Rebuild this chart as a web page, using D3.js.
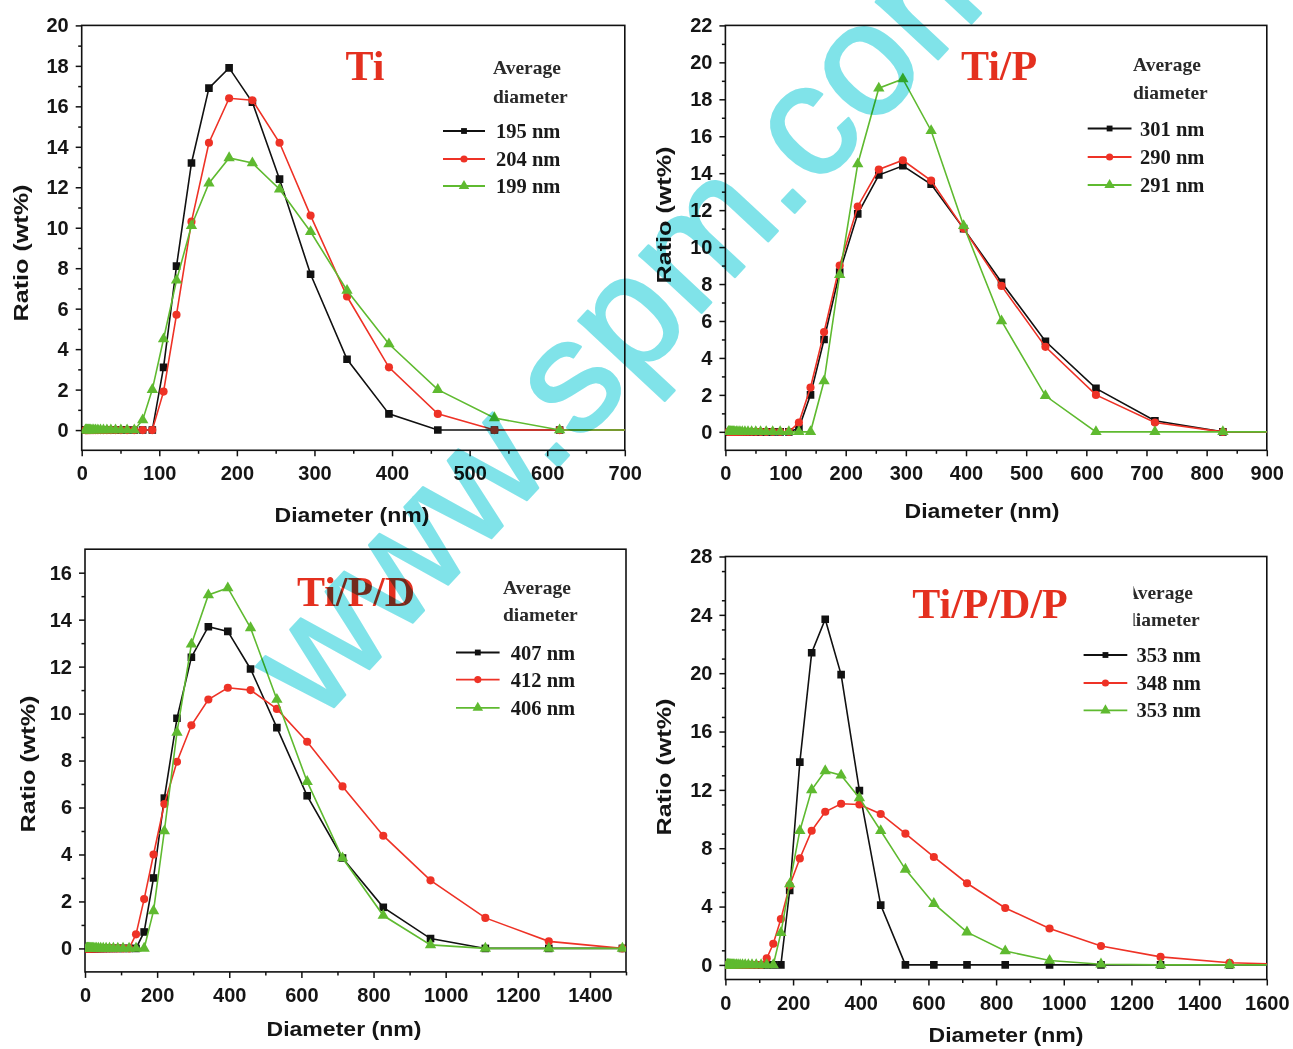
<!DOCTYPE html>
<html>
<head>
<meta charset="utf-8">
<script src="https://cdn.jsdelivr.net/npm/d3@7"></script>
<style>
  body { margin: 0; background: #fff; }
  svg { display: block; }
  .watermark { mix-blend-mode: multiply; }
</style>
</head>
<body>
<svg id="chart" width="1293" height="1049"></svg>
<script>
// Particle-size classes (nm) shared by every distribution
const diameters = [
  4.8, 5.6, 6.5, 7.5, 8.6, 10.0, 11.6, 13.4, 15.6, 18.0,
  20.9, 24.2, 28.0, 32.5, 37.6, 43.6, 50.5, 58.5, 67.8, 78.6,
  91.0, 105.5, 122.2, 141.5, 164.0, 190.0, 220.0, 255.0, 295.0, 342.0,
  396.0, 459.0, 532.0, 616.0, 714.0, 827.0, 958.0, 1110.0, 1286.0, 1490.0,
  1726.0
];

// Ti
const tiBlack = [
  0,0,0,0,0,0,0,0,0,0, 0,0,0,0,0,0,0,0,0,0,
  0,3.1,8.1,13.2,16.9,17.9,16.2,12.4,7.7,3.5,
  0.8,0,0,0,0,0,0,0,0,0, 0];
const tiRed = [
  0,0,0,0,0,0,0,0,0,0, 0,0,0,0,0,0,0,0,0,0,
  0,1.9,5.7,10.3,14.2,16.4,16.3,14.2,10.6,6.6,
  3.1,0.8,0,0,0,0,0,0,0,0, 0];
const tiGreen = [
  0,0,0,0,0,0,0,0,0,0, 0,0,0,0,0,0,0,0,0,0.5,
  2.0,4.5,7.4,10.1,12.2,13.45,13.2,11.9,9.8,6.9,
  4.25,2.0,0.6,0,0,0,0,0,0,0, 0];
const tiLabels = ["195 nm", "204 nm", "199 nm"];

// Ti/P
const tiPBlack = [
  0,0,0,0,0,0,0,0,0,0, 0,0,0,0,0,0,0,0,0,0,
  0,0,0.2,2.0,5.0,8.65,11.8,13.9,14.4,13.4,
  11.0,8.1,4.9,2.35,0.6,0,0,0,0,0, 0];
const tiPRed = [
  0,0,0,0,0,0,0,0,0,0, 0,0,0,0,0,0,0,0,0,0,
  0,0,0.5,2.4,5.4,9.0,12.2,14.2,14.7,13.6,
  11.0,7.9,4.6,2.0,0.5,0,0,0,0,0, 0];
const tiPGreen = [
  0,0,0,0,0,0,0,0,0,0, 0,0,0,0,0,0,0,0,0,0,
  0,0,0,0,2.75,8.5,14.5,18.6,19.1,16.3,
  11.15,6.0,1.95,0,0,0,0,0,0,0, 0];
const tiPLabels = ["301 nm", "290 nm", "291 nm"];

// Ti/P/D
const tiPDBlack = [
  0,0,0,0,0,0,0,0,0,0, 0,0,0,0,0,0,0,0,0,0,
  0,0,0,0,0.7,3.0,6.4,9.8,12.4,13.7,
  13.5,11.9,9.4,6.5,3.85,1.75,0.42,0,0,0, 0];
const tiPDRed = [
  0,0,0,0,0,0,0,0,0,0, 0,0,0,0,0,0,0,0,0,0,
  0,0,0,0.6,2.1,4.0,6.15,7.95,9.5,10.6,
  11.1,11.0,10.2,8.8,6.9,4.8,2.9,1.3,0.3,0, 0];
const tiPDGreen = [
  0,0,0,0,0,0,0,0,0,0, 0,0,0,0,0,0,0,0,0,0,
  0,0,0,0,0,1.6,5.0,9.2,12.95,15.05,
  15.35,13.65,10.6,7.1,3.85,1.4,0.15,0,0,0, 0];
const tiPDLabels = ["407 nm", "412 nm", "406 nm"];

// Ti/P/D/P
const tiPDPBlack = [
  0,0,0,0,0,0,0,0,0,0, 0,0,0,0,0,0,0,0,0,0,
  0,0,0,0,0,5.1,13.9,21.4,23.7,19.9,
  11.95,4.1,0,0,0,0,0,0,0,0, 0];
const tiPDPRed = [
  0,0,0,0,0,0,0,0,0,0, 0,0,0,0,0,0,0,0,0,0,
  0,0,0.45,1.45,3.15,5.45,7.3,9.2,10.5,11.05,
  11.0,10.35,9.0,7.4,5.6,3.9,2.5,1.3,0.55,0.15, 0];
const tiPDPGreen = [
  0,0,0,0,0,0,0,0,0,0, 0,0,0,0,0,0,0,0,0,0,
  0,0,0,0,2.2,5.55,9.2,12.0,13.3,13.0,
  11.45,9.2,6.55,4.2,2.25,0.95,0.3,0.05,0,0, 0];
const tiPDPLabels = ["353 nm", "348 nm", "353 nm"];

const panelTitles = ["Ti", "Ti/P", "Ti/P/D", "Ti/P/D/P"];
const legendHeading = ["Average", "diameter"];
const xTitle = "Diameter (nm)";
const yTitle = "Ratio (wt%)";

// ---- styling / layout ----
const COLORS = ["#111111", "#ee3226", "#5fba30"];
const SYMBOLS = [d3.symbolSquare, d3.symbolCircle, d3.symbolTriangle];
const SYM_SIZE = [58, 52, 56];
const LEG_SIZE = [34, 40, 48];
const SANS = "'Liberation Sans', Arial, sans-serif";
const SERIF = "'Liberation Serif', 'Times New Roman', serif";

const panels = [
  { title: panelTitles[0], series: [tiBlack, tiRed, tiGreen], labels: tiLabels,
    box: { l: 81.7, r: 624.8, t: 25.4, b: 450.3 },
    x: [0, 700], xStep: 100, xMinor: 50, y: [-1, 20], yMax: 20, yStep: 2, yMinor: 1,
    titlePos: [365, 80],
    leg: { head: [493, 74, 103], rows: [131, 159, 186], line: [443, 485], text: 496 },
    xt: [352, 522], yt: [21, 253] },
  { title: panelTitles[1], series: [tiPBlack, tiPRed, tiPGreen], labels: tiPLabels,
    box: { l: 725.4, r: 1266.8, t: 25.4, b: 450.3 },
    x: [0, 900], xStep: 100, xMinor: 50, y: [-1, 22], yMax: 22, yStep: 2, yMinor: 1,
    titlePos: [999, 80],
    leg: { head: [1133, 71, 99], rows: [128.5, 157, 185], line: [1087.7, 1131.5], text: 1140 },
    xt: [982, 518], yt: [664, 215] },
  { title: panelTitles[2], series: [tiPDBlack, tiPDRed, tiPDGreen], labels: tiPDLabels,
    box: { l: 85, r: 626, t: 549.2, b: 971.9 },
    x: [0, 1500], xStep: 200, xMinor: 100, y: [-1, 17], yMax: 16, yStep: 2, yMinor: 1,
    titlePos: [356, 606],
    leg: { head: [503, 594, 621], rows: [652.5, 679.6, 707.8], line: [456, 499.6], text: 510.8 },
    xt: [344, 1036], yt: [28, 764] },
  { title: panelTitles[3], series: [tiPDPBlack, tiPDPRed, tiPDPGreen], labels: tiPDPLabels,
    box: { l: 725.4, r: 1266.8, t: 556.5, b: 979.5 },
    x: [0, 1600], xStep: 200, xMinor: 100, y: [-1, 28], yMax: 28, yStep: 4, yMinor: 2,
    titlePos: [990, 618],
    leg: { head: [1125, 599, 626], clip: 1133.5, rows: [655, 683, 710.4], line: [1083.6, 1127.3], text: 1136.5 },
    xt: [1006, 1042], yt: [664, 767] }
];

const svg = d3.select("#chart");
svg.append("rect").attr("width", 1293).attr("height", 1049).attr("fill", "#fff");

panels.forEach((p, pi) => {
  const { l, r, t, b } = p.box;
  const x = d3.scaleLinear().domain(p.x).range([l, r]);
  const y = d3.scaleLinear().domain(p.y).range([b, t]);
  const g = svg.append("g");

  const clipId = "plot-clip-" + pi;
  svg.append("clipPath").attr("id", clipId)
    .append("rect").attr("x", l).attr("y", t).attr("width", r - l).attr("height", b - t);

  // axes: major + minor ticks pointing outward
  const xMajor = d3.range(p.x[0], p.x[1] + 1e-6, p.xStep);
  const xMinorV = d3.range(p.x[0], p.x[1] + 1e-6, p.xMinor).filter(v => !xMajor.includes(v));
  const yMajor = d3.range(0, p.yMax + 1e-6, p.yStep);
  const yMinorV = d3.range(p.y[0], p.y[1] + 1e-6, p.yMinor).filter(v => !yMajor.includes(v) && v > p.y[0] && v < p.y[1]);

  const styleAxis = sel => {
    sel.select(".domain").remove();
    sel.selectAll("line").attr("stroke", "#111").attr("stroke-width", 1.5);
    sel.selectAll("text").attr("font-family", SANS).attr("font-size", 20)
      .attr("font-weight", "bold").attr("fill", "#151515");
  };

  g.append("g").attr("transform", `translate(0,${b})`)
    .call(d3.axisBottom(x).tickValues(xMajor).tickSize(6).tickPadding(10).tickSizeOuter(0).tickFormat(d3.format("d")))
    .call(styleAxis);
  g.append("g").attr("transform", `translate(0,${b})`)
    .call(d3.axisBottom(x).tickValues(xMinorV).tickSize(3.5).tickFormat(""))
    .call(styleAxis);
  g.append("g").attr("transform", `translate(${l},0)`)
    .call(d3.axisLeft(y).tickValues(yMajor).tickSize(6).tickPadding(7).tickSizeOuter(0).tickFormat(d3.format("d")))
    .call(styleAxis);
  g.append("g").attr("transform", `translate(${l},0)`)
    .call(d3.axisLeft(y).tickValues(yMinorV).tickSize(3.5).tickFormat(""))
    .call(styleAxis);

  // frame
  g.append("rect").attr("x", l).attr("y", t).attr("width", r - l).attr("height", b - t)
    .attr("fill", "none").attr("stroke", "#111").attr("stroke-width", 1.6);

  // series
  const plot = g.append("g").attr("clip-path", `url(#${clipId})`);
  const line = d3.line().x((d, i) => x(diameters[i])).y(d => y(d));
  p.series.forEach((vals, si) => {
    plot.append("path").datum(vals).attr("d", line)
      .attr("fill", "none").attr("stroke", COLORS[si]).attr("stroke-width", 1.6);
    plot.selectAll(null).data(vals).enter().append("path")
      .attr("d", d3.symbol().type(SYMBOLS[si]).size(SYM_SIZE[si]))
      .attr("transform", (d, i) => `translate(${x(diameters[i])},${y(d)})`)
      .attr("fill", COLORS[si]);
  });

  // panel title
  g.append("text").attr("x", p.titlePos[0]).attr("y", p.titlePos[1])
    .attr("text-anchor", "middle").attr("font-family", SERIF).attr("font-weight", "bold")
    .attr("font-size", 42).attr("fill", "#e4301f").text(p.title);

  // legend
  const leg = g.append("g");
  let headG = leg;
  if (p.leg.clip) {
    const hid = "leg-clip-" + pi;
    svg.append("clipPath").attr("id", hid)
      .append("rect").attr("x", p.leg.clip).attr("y", p.leg.head[1] - 30).attr("width", 200).attr("height", 70);
    headG = leg.append("g").attr("clip-path", `url(#${hid})`);
  }
  legendHeading.forEach((h, hi) => {
    headG.append("text").attr("x", p.leg.head[0]).attr("y", p.leg.head[1 + hi])
      .attr("font-family", SERIF).attr("font-weight", "bold").attr("font-size", 19.5)
      .attr("fill", "#2a2a2a").text(h);
  });
  p.labels.forEach((lab, si) => {
    const cy = p.leg.rows[si];
    const [x0, x1] = p.leg.line;
    leg.append("line").attr("x1", x0).attr("x2", x1).attr("y1", cy).attr("y2", cy)
      .attr("stroke", COLORS[si]).attr("stroke-width", 1.8);
    leg.append("path").attr("d", d3.symbol().type(SYMBOLS[si]).size(LEG_SIZE[si]))
      .attr("transform", `translate(${(x0 + x1) / 2},${cy})`).attr("fill", COLORS[si]);
    leg.append("text").attr("x", p.leg.text).attr("y", cy + 7)
      .attr("font-family", SERIF).attr("font-weight", "bold").attr("font-size", 20.5)
      .attr("fill", "#1a1a1a").text(lab);
  });

  // axis titles
  g.append("text").attr("x", p.xt[0]).attr("y", p.xt[1]).attr("text-anchor", "middle")
    .attr("font-family", SANS).attr("font-weight", "bold").attr("font-size", 21)
    .attr("fill", "#151515").attr("textLength", 155).attr("lengthAdjust", "spacingAndGlyphs")
    .text(xTitle);
  g.append("text").attr("transform", `translate(${p.yt[0] + 7},${p.yt[1]}) rotate(-90)`)
    .attr("text-anchor", "middle").attr("font-family", SANS).attr("font-weight", "bold")
    .attr("font-size", 21).attr("fill", "#151515")
    .attr("textLength", 137).attr("lengthAdjust", "spacingAndGlyphs")
    .text(yTitle);
});

// site watermark across the figure, multiplied over the plots
svg.append("text").attr("class", "watermark")
  .attr("transform", "translate(318,724) rotate(-47)")
  .attr("font-family", SANS).attr("font-size", 160)
  .attr("fill", "#80e3e9").attr("stroke", "#80e3e9").attr("stroke-width", 2.5)
  .attr("stroke-linejoin", "round")
  .text("www.spm.com.cn");
</script>
</body>
</html>
